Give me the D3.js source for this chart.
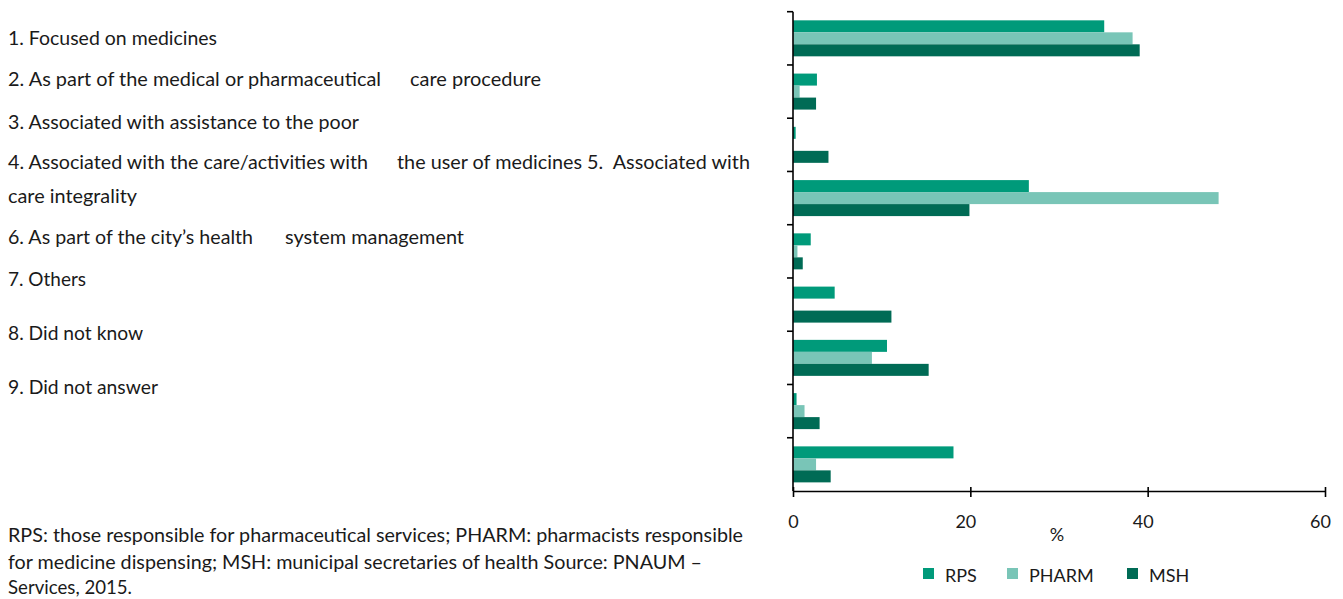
<!DOCTYPE html>
<html>
<head>
<meta charset="utf-8">
<script src="https://cdn.jsdelivr.net/npm/d3@7"></script>
<style>
  body { margin: 0; background: #fff; }
  text { font-family: Lato, "Noto Sans", sans-serif; fill: #1a1a1a; white-space: pre; }
</style>
</head>
<body>
<svg id="chart" width="1343" height="599"></svg>
<script>
// categories (one band per answer), top to bottom
const categories = ['1', '2', '3', '4', '5', '6', '7', '8', '9'];
const seriesNames = ['RPS', 'PHARM', 'MSH'];

// % values
const rps   = [35.1, 2.7, 0.3, 26.6, 2.0, 4.7, 10.6, 0.4, 18.1];
const pharm = [38.3, 0.75, 0, 48.0, 0.5, 0, 8.9, 1.3, 2.6];
const msh   = [39.1, 2.6, 4.0, 19.9, 1.1, 11.1, 15.3, 3.0, 4.25];

const xTicks = [0, 20, 40, 60];

// left hand text, as it is laid out in the source (segments per line)
const labelLines = [
  ['1. Focused on medicines'],
  ['2. As part of the medical or pharmaceutical', 'care procedure'],
  ['3. Associated with assistance to the poor'],
  ['4. Associated with the care/activities with', 'the user of medicines 5.  Associated with'],
  ['care integrality'],
  ['6. As part of the city\u2019s health', 'system management'],
  ['7. Others'],
  ['8. Did not know'],
  ['9. Did not answer']
];
const footLines = [
  'RPS: those responsible for pharmaceutical services; PHARM: pharmacists responsible',
  'for medicine dispensing; MSH: municipal secretaries of health Source: PNAUM \u2013',
  'Services, 2015.'
];

const colors = { RPS: '#009a7a', PHARM: '#79c5b7', MSH: '#006b55' };

// layout
const lineY = [38, 79, 122, 162, 196, 237, 279, 333, 387];
const segX = [[8, 217], [8, 381, 410, 541], [8, 359], [8, 368, 397, 750], [8, 137],
              [8, 253, 285, 464], [8, 86], [8, 143], [8, 158]];
const footY = [535, 562, 587];
const footW = [743, 702, 132];

const values = { RPS: rps, PHARM: pharm, MSH: msh };
const rows = categories.map((c, i) => ({ cat: c, vals: seriesNames.map(s => ({ s: s, v: values[s][i] })) }));

const svg = d3.select('#chart');

const x = d3.scaleLinear().domain([0, 60]).range([793, 1325]);
const y = d3.scaleBand().domain(categories).range([11.7, 491]).paddingInner(0.324).paddingOuter(0.162);
const ySub = d3.scaleBand().domain(seriesNames).range([0, y.bandwidth()]);

// bars
const groups = svg.append('g').selectAll('g')
  .data(rows).enter().append('g')
  .attr('transform', d => 'translate(0,' + y(d.cat) + ')');
groups.selectAll('rect')
  .data(d => d.vals.filter(e => e.v > 0))
  .enter().append('rect')
  .attr('x', x(0))
  .attr('y', d => ySub(d.s))
  .attr('height', ySub.bandwidth())
  .attr('width', d => x(d.v) - x(0))
  .attr('fill', d => colors[d.s]);

// y axis: line plus ticks at band boundaries
const step = y.step();
const yTop = y.range()[0];
svg.append('line')
  .attr('x1', x(0)).attr('x2', x(0)).attr('y1', yTop).attr('y2', 491)
  .attr('stroke', '#000').attr('stroke-width', 1.6);
svg.append('g').selectAll('line')
  .data(d3.range(categories.length))
  .enter().append('line')
  .attr('x1', x(0) - 6).attr('x2', x(0))
  .attr('y1', i => yTop + i * step).attr('y2', i => yTop + i * step)
  .attr('stroke', '#000').attr('stroke-width', 1.6);

// x axis
const xAxis = svg.append('g')
  .attr('transform', 'translate(0,491)')
  .call(d3.axisBottom(x).tickValues(xTicks).tickSizeInner(6).tickSizeOuter(0).tickPadding(18));
xAxis.select('.domain').attr('stroke', '#000').attr('stroke-width', 1.6);
xAxis.selectAll('.tick line').attr('stroke', '#000').attr('stroke-width', 1.6).attr('y1', -4);
xAxis.selectAll('.tick text')
  .attr('dx', d => d === 0 ? 0 : -5)
  .style('font-family', 'Lato, "Noto Sans", sans-serif')
  .style('font-size', '18px').attr('fill', '#1a1a1a');

svg.append('text')
  .attr('x', 1057).attr('y', 541)
  .attr('text-anchor', 'middle')
  .style('font-size', '18px')
  .text('%');

// legend
const legendX = [923, 1007, 1127];
const legend = svg.append('g').selectAll('g')
  .data(seriesNames).enter().append('g')
  .attr('transform', (d, i) => 'translate(' + legendX[i] + ',568)');
legend.append('rect')
  .attr('width', 11).attr('height', 11)
  .attr('fill', d => colors[d]);
legend.append('text')
  .attr('x', 22).attr('y', 14)
  .style('font-size', '18px')
  .text(d => d);

// category text on the left
labelLines.forEach((segs, i) => {
  segs.forEach((t, j) => {
    svg.append('text')
      .attr('x', segX[i][j * 2])
      .attr('y', lineY[i])
      .attr('dy', '0.35em')
      .attr('textLength', segX[i][j * 2 + 1] - segX[i][j * 2])
      .attr('lengthAdjust', 'spacingAndGlyphs')
      .style('font-size', '19px')
      .text(t);
  });
});

// footnote
footLines.forEach((t, i) => {
  svg.append('text')
    .attr('x', 8).attr('y', footY[i])
    .attr('dy', '0.35em')
    .attr('textLength', footW[i] - 8)
    .attr('lengthAdjust', 'spacingAndGlyphs')
    .style('font-size', '19px')
    .text(t);
});
</script>
</body>
</html>
